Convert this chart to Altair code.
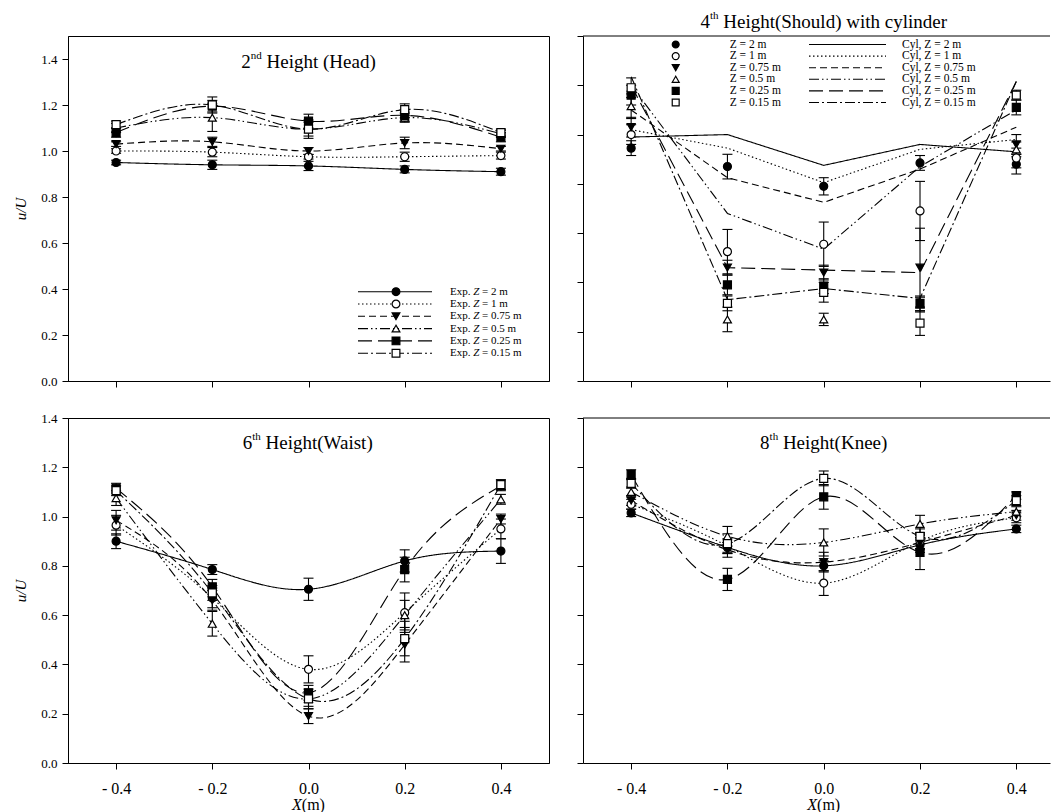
import altair as alt
import pandas as pd

FONT = "Liberation Serif"

# ---------------- data ----------------
X_POS = [-0.4, -0.2, 0.0, 0.2, 0.4]
Y_TICKS = [0.0, 0.2, 0.4, 0.6, 0.8, 1.0, 1.2, 1.4]
SERIES = ["Z = 2 m", "Z = 1 m", "Z = 0.75 m", "Z = 0.5 m", "Z = 0.25 m", "Z = 0.15 m"]
EXP_REST = ["= 2 m", "= 1 m", "= 0.75 m", "= 0.5 m", "= 0.25 m", "= 0.15 m"]
CYL_LABELS = ["Cyl, Z = 2 m", "Cyl, Z = 1 m", "Cyl, Z = 0.75 m",
              "Cyl, Z = 0.5 m", "Cyl, Z = 0.25 m", "Cyl, Z = 0.15 m"]

# 2nd height (head)
head_z2 = [0.95, 0.94, 0.935, 0.92, 0.91]
head_z1 = [1.0, 0.995, 0.975, 0.975, 0.98]
head_z075 = [1.03, 1.04, 1.0, 1.035, 1.01]
head_z05 = [1.10, 1.145, 1.095, 1.145, 1.075]
head_z025 = [1.08, 1.195, 1.13, 1.155, 1.06]
head_z015 = [1.115, 1.2, 1.095, 1.18, 1.08]
head_e2 = [0.01, 0.02, 0.02, 0.015, 0.015]
head_e1 = [0.01, 0.02, 0.01, 0.02, 0.015]
head_e075 = [0.01, 0.02, 0.015, 0.025, 0.01]
head_e05 = [0.02, 0.06, 0.03, 0.02, 0.015]
head_e025 = [0.02, 0.025, 0.03, 0.025, 0.02]
head_e015 = [0.015, 0.035, 0.04, 0.025, 0.015]

# 4th height (shoulder) with cylinder: experiment points
sh_z2 = [0.945, 0.87, 0.79, 0.885, 0.88]
sh_z1 = [1.0, 0.525, 0.555, 0.69, 0.905]
sh_z075 = [1.03, 0.46, 0.44, 0.46, 0.96]
sh_z05 = [1.115, 0.25, 0.25, 0.31, 0.94]
sh_z025 = [1.16, 0.39, 0.385, 0.315, 1.11]
sh_z015 = [1.19, 0.315, 0.36, 0.235, 1.16]
sh_e2 = [0.03, 0.05, 0.035, 0.03, 0.04]
sh_e1 = [0.04, 0.09, 0.09, 0.12, 0.04]
sh_e075 = [0.04, 0.03, 0.03, 0.16, 0.04]
sh_e05 = [0.05, 0.05, 0.025, 0.03, 0.03]
sh_e025 = [0.04, 0.04, 0.03, 0.03, 0.03]
sh_e015 = [0.04, 0.03, 0.04, 0.05, 0.02]
# cylinder lines
cyl_z2 = [0.99, 1.0, 0.875, 0.96, 0.93]
cyl_z1 = [1.02, 0.945, 0.805, 0.94, 0.98]
cyl_z075 = [1.1, 0.825, 0.725, 0.86, 1.03]
cyl_z05 = [1.2, 0.68, 0.535, 0.87, 1.1]
cyl_z025 = [1.2, 0.46, 0.45, 0.44, 1.215]
cyl_z015 = [1.235, 0.33, 0.375, 0.335, 1.215]

# 6th height (waist)
wa_z2 = [0.90, 0.785, 0.705, 0.82, 0.86]
wa_z1 = [0.965, 0.67, 0.38, 0.61, 0.95]
wa_z075 = [0.985, 0.66, 0.19, 0.48, 0.99]
wa_z05 = [1.075, 0.565, 0.26, 0.60, 1.07]
wa_z025 = [1.115, 0.715, 0.285, 0.785, 1.125]
wa_z015 = [1.105, 0.69, 0.26, 0.505, 1.13]
wa_e2 = [0.03, 0.02, 0.045, 0.045, 0.05]
wa_e1 = [0.04, 0.04, 0.055, 0.08, 0.04]
wa_e075 = [0.04, 0.04, 0.03, 0.07, 0.02]
wa_e05 = [0.03, 0.05, 0.03, 0.06, 0.02]
wa_e025 = [0.02, 0.03, 0.03, 0.05, 0.02]
wa_e015 = [0.02, 0.03, 0.04, 0.07, 0.02]

# 8th height (knee)
kn_z2 = [1.015, 0.875, 0.80, 0.885, 0.95]
kn_z1 = [1.05, 0.88, 0.73, 0.90, 0.995]
kn_z075 = [1.065, 0.865, 0.815, 0.895, 1.005]
kn_z05 = [1.10, 0.92, 0.895, 0.97, 1.02]
kn_z025 = [1.17, 0.745, 1.08, 0.855, 1.085]
kn_z015 = [1.135, 0.89, 1.155, 0.92, 1.065]
kn_e2 = [0.015, 0.02, 0.02, 0.03, 0.015]
kn_e1 = [0.02, 0.03, 0.05, 0.03, 0.02]
kn_e075 = [0.02, 0.03, 0.04, 0.03, 0.02]
kn_e05 = [0.02, 0.04, 0.055, 0.035, 0.02]
kn_e025 = [0.02, 0.045, 0.05, 0.07, 0.015]
kn_e015 = [0.02, 0.04, 0.03, 0.03, 0.02]

# ---------------- styles ----------------
DASHES = [[1, 0], [1.5, 2.5], [7, 4], [10, 3, 1.5, 3, 1.5, 3], [14, 6], [10, 3, 2, 3]]
SHAPES = ["circle", "circle", "triangle-down", "triangle-up", "square", "square"]
FILLS = ["black", "white", "black", "white", "black", "white"]
dash_scale = alt.Scale(domain=SERIES, range=DASHES)
shape_scale = alt.Scale(domain=SERIES, range=SHAPES)
fill_scale = alt.Scale(domain=SERIES, range=FILLS)

W_N = {' ': 250, '(': 333, ')': 333, ',': 250, '.': 250, '=': 564, '-': 333, '/': 278,
       'A': 722, 'C': 667, 'E': 611, 'H': 722, 'K': 722, 'S': 556, 'U': 722, 'W': 944,
       'X': 722, 'Z': 611, 'a': 444, 'c': 444, 'd': 500, 'e': 444, 'g': 500, 'h': 500,
       'i': 278, 'k': 500, 'l': 278, 'm': 778, 'n': 500, 'o': 500, 'p': 500, 'r': 333,
       's': 389, 't': 278, 'u': 500, 'w': 722, 'x': 500, 'y': 500}
W_I = {'Z': 556, 'X': 611}


def tw(s, size, italic=False):
    tot = 0
    for ch in s:
        if ch.isdigit():
            tot += 500
        elif italic and ch in W_I:
            tot += W_I[ch]
        else:
            tot += W_N.get(ch, 500)
    return tot * size / 1000.0


ONE = pd.DataFrame({"k": [0]})


def rich_text(parts, cx, baseline):
    """parts: (text, size, raise, italic); centred at cx."""
    total = sum(tw(t, s, it) for t, s, r, it in parts)
    x = cx - total / 2.0
    layers = []
    for t, s, r, it in parts:
        lead = len(t) - len(t.lstrip(" "))
        body = t.strip(" ")
        xx = x + tw(" " * lead, s)
        kw = dict(text=body, font=FONT, fontSize=s, align="left",
                  baseline="alphabetic", color="black")
        if it:
            kw["fontStyle"] = "italic"
        layers.append(alt.Chart(ONE).mark_text(**kw).encode(
            x=alt.value(xx), y=alt.value(baseline - r)))
        x += tw(t, s, it)
    return layers


def table(vals, errs):
    rows = []
    for s, v, e in zip(SERIES, vals, errs):
        for x, y, d in zip(X_POS, v, e):
            rows.append(dict(series=s, x=x, u=y, lo=y - d, hi=y + d))
    return pd.DataFrame(rows)


def line_table(vals):
    rows = []
    for s, v in zip(SERIES, vals):
        for x, y in zip(X_POS, v):
            rows.append(dict(series=s, x=x, u=y))
    return pd.DataFrame(rows)


XLAB = "datum.value < 0 ? '- ' + format(-datum.value, '.1f') : format(datum.value, '.1f')"


def panel(df_pts, df_line, xdom, ydom, w, h, xlab, ylab, interp, framed, extras):
    xs = alt.Scale(domain=xdom, nice=False, zero=False)
    ys = alt.Scale(domain=ydom, nice=False, zero=False)
    xax = alt.Axis(values=X_POS, labels=xlab, title=None, labelExpr=XLAB,
                   labelFontSize=16, labelPadding=11, tickSize=6)
    if ylab:
        yax = alt.Axis(values=Y_TICKS, labels=True, format=".1f", labelFontSize=13,
                       labelPadding=5, tickSize=6, title="u/U", titleFontStyle="italic",
                       titleFontSize=15, titleFontWeight="normal", titlePadding=12)
    else:
        yax = alt.Axis(values=Y_TICKS, labels=False, tickSize=6, title=None)
    X = alt.X("x:Q", scale=xs, axis=xax)
    line = alt.Chart(df_line).mark_line(interpolate=interp, color="black", strokeWidth=1.1).encode(
        x=X, y=alt.Y("u:Q", scale=ys, axis=yax),
        strokeDash=alt.StrokeDash("series:N", scale=dash_scale, legend=None),
        detail="series:N")
    err = alt.Chart(df_pts).mark_rule(color="black", strokeWidth=1.1).encode(
        x=X, y=alt.Y("lo:Q", scale=ys, axis=yax), y2="hi:Q")
    cap_lo = alt.Chart(df_pts).mark_tick(orient="horizontal", color="black", size=10,
                                         thickness=1.1, opacity=1).encode(
        x=X, y=alt.Y("lo:Q", scale=ys, axis=yax))
    cap_hi = alt.Chart(df_pts).mark_tick(orient="horizontal", color="black", size=10,
                                         thickness=1.1, opacity=1).encode(
        x=X, y=alt.Y("hi:Q", scale=ys, axis=yax))
    pts = alt.Chart(df_pts).mark_point(filled=True, stroke="black", strokeWidth=1.2,
                                       size=64, opacity=1).encode(
        x=X, y=alt.Y("u:Q", scale=ys, axis=yax),
        shape=alt.Shape("series:N", scale=shape_scale, legend=None),
        fill=alt.Fill("series:N", scale=fill_scale, legend=None))
    layers = [line, err, cap_lo, cap_hi, pts] + extras
    if not framed:
        layers.append(alt.Chart(ONE).mark_rule(color="black", strokeWidth=1).encode(
            x=alt.value(0), x2=alt.value(w), y=alt.value(0)))
    return alt.layer(*layers).properties(
        width=w, height=h,
        view=alt.ViewBackground(stroke="black" if framed else "transparent", strokeWidth=1))


W_L, W_R, H = 481, 467, 345
XDOM_L = [-0.5, 0.5]
XDOM_R = [-0.5, 0.47]
cx_l = W_L * 0.5
cx_r = W_R * 0.5 / 0.97

# ---- legends ----
leg = pd.DataFrame({"series": SERIES, "rest": EXP_REST, "cyl": CYL_LABELS})
leg["ly"] = [255.7 + i * 12.3 for i in range(6)]
leg["ry"] = [8.5 + i * 11.6 for i in range(6)]

LY = alt.Y("ly:Q", scale=None)
RY = alt.Y("ry:Q", scale=None)
sd = alt.StrokeDash("series:N", scale=dash_scale, legend=None)
sh = alt.Shape("series:N", scale=shape_scale, legend=None)
fl = alt.Fill("series:N", scale=fill_scale, legend=None)

lx0 = 382
head_legend = [
    alt.Chart(leg).mark_rule(color="black", strokeWidth=1.1).encode(
        x=alt.value(290), x2=alt.value(364), y=LY, strokeDash=sd),
    alt.Chart(leg).mark_point(filled=True, stroke="black", strokeWidth=1.2, size=60, opacity=1).encode(
        x=alt.value(328), y=LY, shape=sh, fill=fl),
    alt.Chart(leg).mark_text(text="Exp.", font=FONT, fontSize=11, align="left",
                             baseline="middle", color="black").encode(x=alt.value(lx0), y=LY),
    alt.Chart(leg).mark_text(text="Z", font=FONT, fontSize=11, fontStyle="italic", align="left",
                             baseline="middle", color="black").encode(
        x=alt.value(lx0 + tw("Exp. ", 11)), y=LY),
    alt.Chart(leg).mark_text(font=FONT, fontSize=11, align="left",
                             baseline="middle", color="black").encode(
        x=alt.value(lx0 + tw("Exp. ", 11) + tw("Z ", 11, True)), y=LY, text="rest:N"),
]

sh_legend = [
    alt.Chart(leg).mark_point(filled=True, stroke="black", strokeWidth=1.2, size=48, opacity=1).encode(
        x=alt.value(92.7), y=RY, shape=sh, fill=fl),
    alt.Chart(leg).mark_text(font=FONT, fontSize=11.5, align="left", baseline="middle",
                             color="black").encode(x=alt.value(146.7), y=RY, text="series:N"),
    alt.Chart(leg).mark_rule(color="black", strokeWidth=1.1).encode(
        x=alt.value(226), x2=alt.value(303), y=RY, strokeDash=sd),
    alt.Chart(leg).mark_text(font=FONT, fontSize=11.5, align="left", baseline="middle",
                             color="black").encode(x=alt.value(319), y=RY, text="cyl:N"),
]

# ---- titles ----
t_head = rich_text([("2", 19, 0, False), ("nd", 11, 9, False), (" Height (Head)", 19, 0, False)], cx_l, 32)
t_sh = rich_text([("4", 19, 0, False), ("th", 11, 9, False),
                  (" Height(Should) with cylinder", 19, 0, False)], cx_r, -8)
t_wa = rich_text([("6", 19, 0, False), ("th", 11, 9, False), (" Height(Waist)", 19, 0, False)], cx_l, 31)
t_kn = rich_text([("8", 19, 0, False), ("th", 11, 9, False), (" Height(Knee)", 19, 0, False)], cx_r, 31)
xt_l = rich_text([("X", 16, 0, True), ("(m)", 16, 0, False)], cx_l, H + 47)
xt_r = rich_text([("X", 16, 0, True), ("(m)", 16, 0, False)], cx_r, H + 47)

p_head = panel(table([head_z2, head_z1, head_z075, head_z05, head_z025, head_z015],
                     [head_e2, head_e1, head_e075, head_e05, head_e025, head_e015]),
               line_table([head_z2, head_z1, head_z075, head_z05, head_z025, head_z015]),
               XDOM_L, [0, 1.5], W_L, H, False, True, "natural", True, t_head + head_legend)
p_sh = panel(table([sh_z2, sh_z1, sh_z075, sh_z05, sh_z025, sh_z015],
                   [sh_e2, sh_e1, sh_e075, sh_e05, sh_e025, sh_e015]),
             line_table([cyl_z2, cyl_z1, cyl_z075, cyl_z05, cyl_z025, cyl_z015]),
             XDOM_R, [0, 1.4], W_R, H, False, False, "linear", False, t_sh + sh_legend)
p_wa = panel(table([wa_z2, wa_z1, wa_z075, wa_z05, wa_z025, wa_z015],
                   [wa_e2, wa_e1, wa_e075, wa_e05, wa_e025, wa_e015]),
             line_table([wa_z2, wa_z1, wa_z075, wa_z05, wa_z025, wa_z015]),
             XDOM_L, [0, 1.4], W_L, H, True, True, "natural", True, t_wa + xt_l)
p_kn = panel(table([kn_z2, kn_z1, kn_z075, kn_z05, kn_z025, kn_z015],
                   [kn_e2, kn_e1, kn_e075, kn_e05, kn_e025, kn_e015]),
             line_table([kn_z2, kn_z1, kn_z075, kn_z05, kn_z025, kn_z015]),
             XDOM_R, [0, 1.4], W_R, H, True, False, "natural", False, t_kn + xt_r)

chart = alt.concat(p_head, p_sh, p_wa, p_kn, columns=2,
                   spacing=alt.RowColnumber(row=37, column=34),
                   bounds="flush").properties(
    padding={"left": 5, "top": 1, "right": 0, "bottom": 0},
    background="white",
).configure_view(stroke="black", strokeWidth=1).configure_axis(
    domainColor="black", tickColor="black", labelColor="black", titleColor="black",
    labelFont=FONT, titleFont=FONT, grid=False, domainWidth=1, tickWidth=1)

chart.save("out.html", embed_options={"renderer": "svg", "actions": False})
